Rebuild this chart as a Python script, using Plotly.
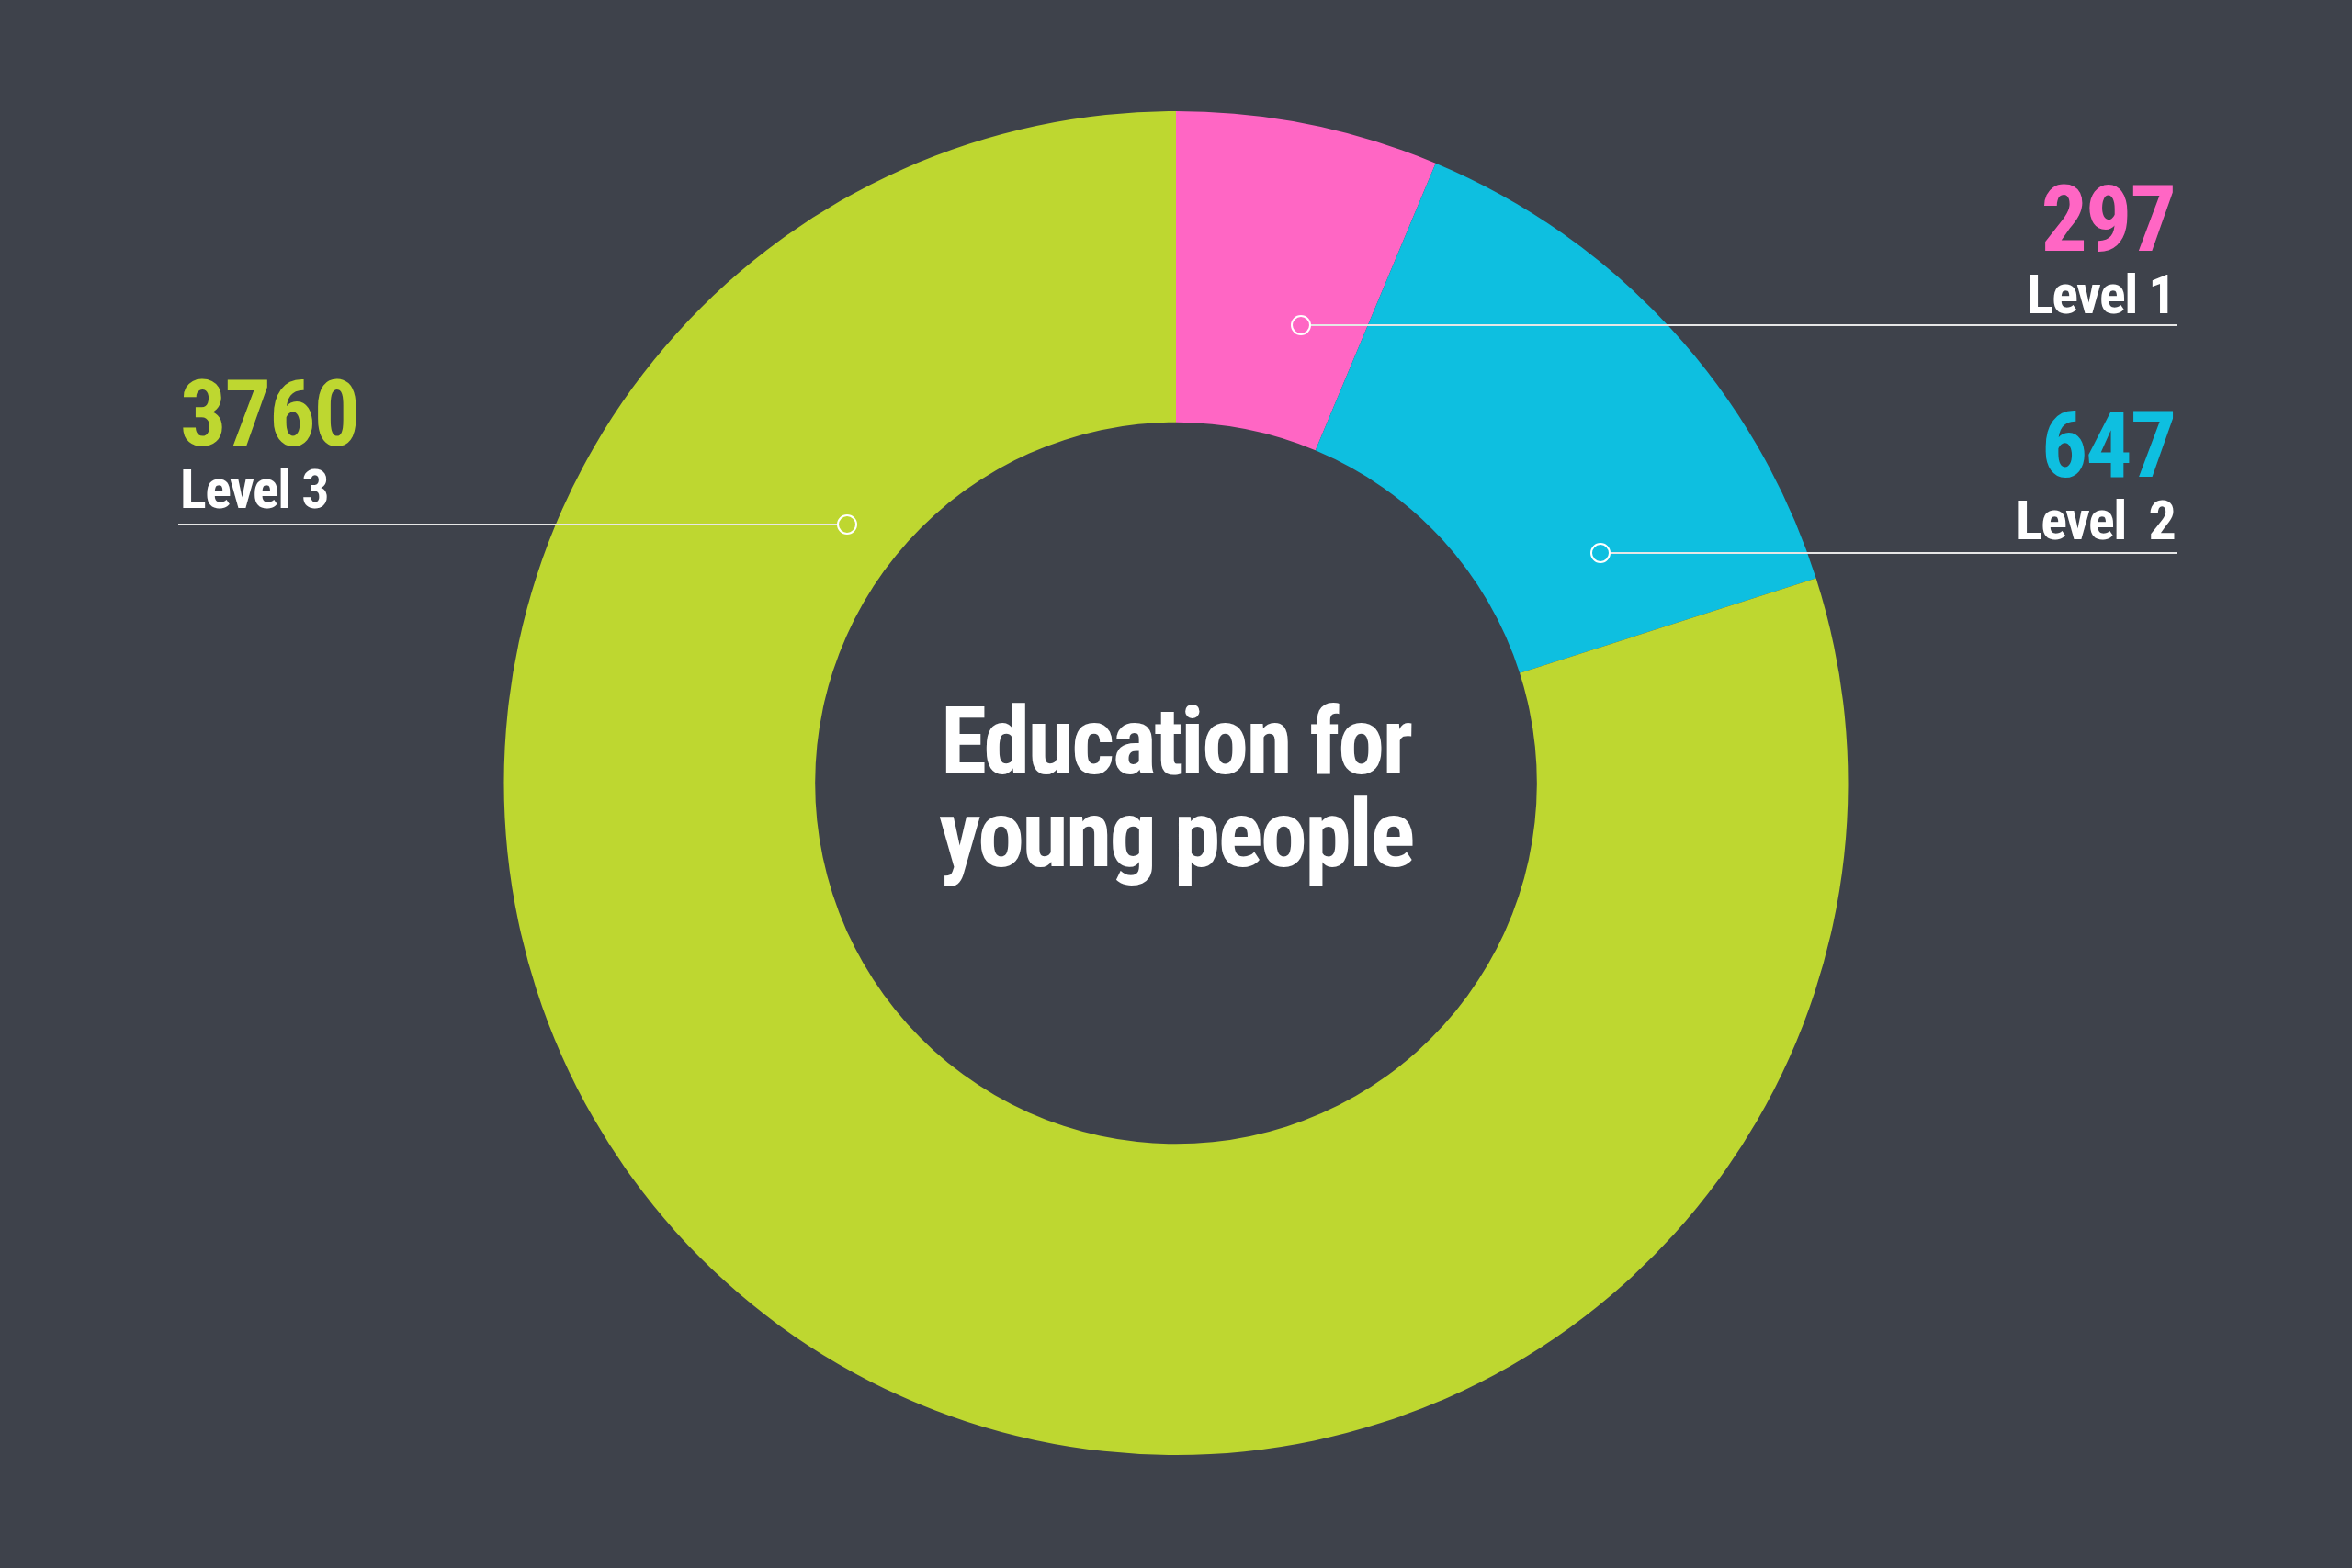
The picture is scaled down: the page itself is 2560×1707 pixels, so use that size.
import plotly.graph_objects as go

# Data
levels = ["Level 1", "Level 2", "Level 3"]
label_text = ["Level 1", "Level\u00a0 2", "Level 3"]
counts = [297, 647, 3760]
colors = ["#ff66c4", "#0ebfe0", "#bed730"]
title_lines = ["Education for", "young people"]

bg = "#3e424b"
font = "Roboto Condensed, Liberation Sans Narrow, DejaVu Sans Condensed, sans-serif"

W, H = 2560, 1707

# callout layout in pixels: text x, first baseline, line y, dot x, line end x
callouts = [
    dict(tx=2369, base=273, liney=354, dotx=1416, endx=2369, anchor="right"),
    dict(tx=2369, base=519, liney=602, dotx=1742, endx=2369, anchor="right"),
    dict(tx=194, base=485, liney=571, dotx=922, endx=194, anchor="left"),
]


def px(x):
    return x / W


def py(y):
    return 1 - y / H


fig = go.Figure(go.Pie(
    labels=levels,
    values=counts,
    marker=dict(colors=colors, line=dict(width=0)),
    hole=0.537,
    sort=False,
    direction="clockwise",
    rotation=0,
    textinfo="none",
    hoverinfo="label+value",
    domain=dict(x=[0, 1], y=[py(1584), py(121)]),
))

annotations = []
shapes = []
for i, c in enumerate(callouts):
    # value on top, level name below; base font size sets the line gap
    txt = (f"<span style='font-size:100px;letter-spacing:-2px;color:{colors[i]}'>"
           f"{counts[i]}</span><br>"
           f"<span style='font-size:60px;letter-spacing:-1.5px'>{label_text[i]}</span>")
    annotations.append(dict(
        x=px(c["tx"]), y=py(c["base"] - 5), xref="paper", yref="paper",
        xanchor=c["anchor"], yanchor="middle", align=c["anchor"],
        showarrow=False, text=txt,
        font=dict(family=font, size=52, color="white", weight="bold"),
    ))
    # leader line
    x_dot = c["dotx"]
    start = x_dot + 10 if c["anchor"] == "right" else x_dot - 10
    shapes.append(dict(
        type="line", xref="paper", yref="paper",
        x0=px(start), x1=px(c["endx"]), y0=py(c["liney"]), y1=py(c["liney"]),
        line=dict(color="#e6e6e6", width=2),
    ))
    shapes.append(dict(
        type="circle", xref="paper", yref="paper",
        xsizemode="pixel", ysizemode="pixel",
        xanchor=px(x_dot), yanchor=py(c["liney"]),
        x0=-10, x1=10, y0=-10, y1=10,
        line=dict(color="white", width=2), fillcolor="rgba(0,0,0,0)",
    ))

title = "<br>".join(
    f"<span style='font-size:102px;letter-spacing:-2.5px'>{t}</span>" for t in title_lines
)
annotations.append(dict(
    x=0.5, y=py(857), xref="paper", yref="paper",
    xanchor="center", yanchor="middle", showarrow=False,
    text=title, font=dict(family=font, size=78, color="white", weight="bold"),
))

fig.update_layout(
    width=W, height=H,
    paper_bgcolor=bg, plot_bgcolor=bg,
    margin=dict(l=0, r=0, t=0, b=0),
    showlegend=False,
    annotations=annotations,
    shapes=shapes,
)

fig.write_html("out.html", config={"displayModeBar": False},
               post_script="document.body.style.margin = '0';")
